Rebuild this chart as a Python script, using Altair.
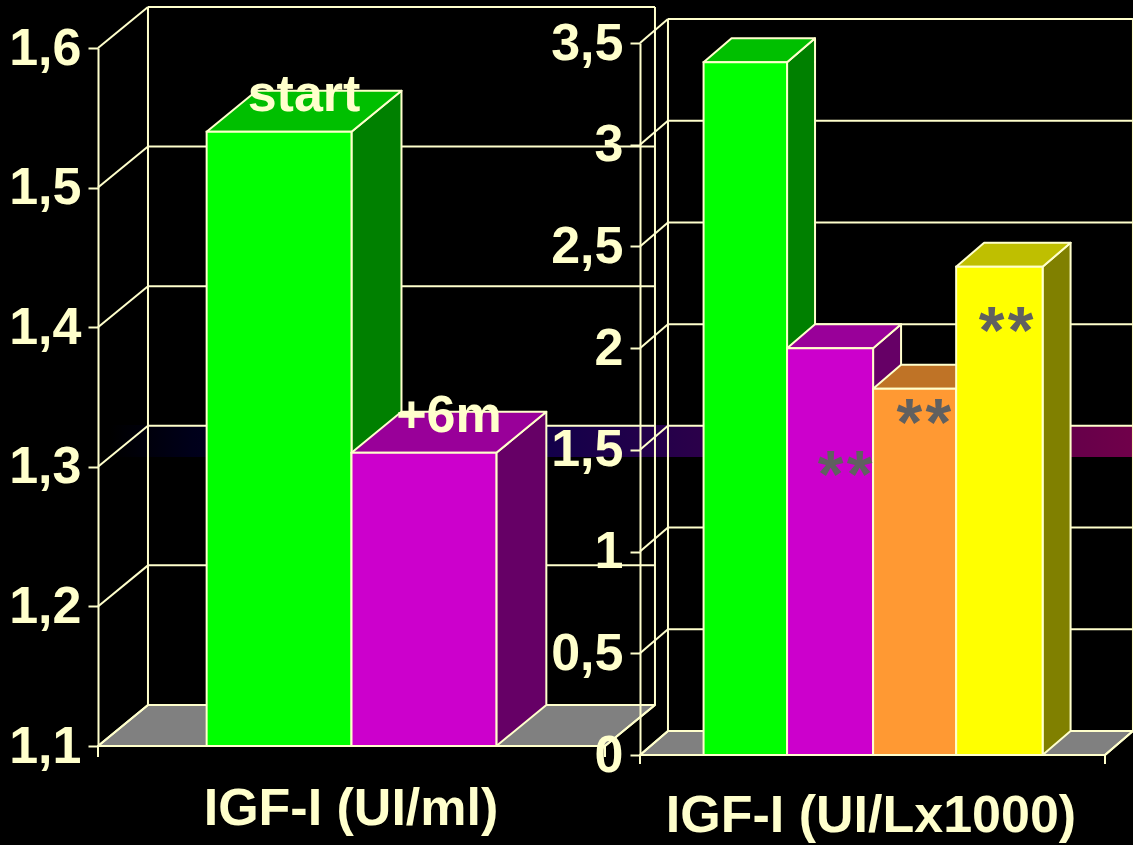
import altair as alt
import pandas as pd

CREAM = "#FFFFCC"
FONT = "Liberation Sans"
LABEL_SIZE = 52

# Left panel: IGF-I in UI/ml
left_ticks = [1.1, 1.2, 1.3, 1.4, 1.5, 1.6]
left_values = [1.54, 1.31]
left_labels = ["start", "+6m"]
left_edges = [0, 1, 2]
left_front = ["#00FF00", "#CC00CC"]
left_top = ["#00BF00", "#990099"]
left_side = ["#008000", "#660066"]

# Right panel: IGF-I in UI/L x 1000
right_ticks = [0, 0.5, 1, 1.5, 2, 2.5, 3, 3.5]
right_values = [3.405, 2.0, 1.8, 2.4]
right_edges = [0, 0.985, 2, 2.98, 4]
right_front = ["#00FF00", "#CC00CC", "#FF9933", "#FFFF00"]
right_top = ["#00BF00", "#990099", "#BF7326", "#BFBF00"]
right_side = ["#008000", "#660066", "#804D1A", "#808000"]
star_x = [1.67, 2.60, 3.57]
star_y = [1.42, 1.676, 2.13]

band_stops = [
    (0.0, "#000000"),
    (0.08, "#00001A"),
    (0.40, "#0E004A"),
    (1.0, "#70004A"),
]


def panel(ticks, values, edges, front, top, side, x_dom, x_rng, y_dom, y_rng,
          depth_x, depth_y, tail, label_pad, labels=None, stars=None):
    """Return the layers of one pseudo-3D bar panel; depths are in data units."""
    xs = alt.Scale(domain=x_dom, range=x_rng, nice=False, zero=False)
    ys = alt.Scale(domain=y_dom, range=y_rng, nice=False, zero=False)
    x_lo, x_hi = x_dom
    y_lo, y_hi = y_dom

    y_axis = alt.Axis(
        orient="left",
        values=ticks,
        format="~g",
        labelExpr="replace(datum.label, '.', ',')",
        title=None,
        grid=False,
        domain=True,
        domainColor=CREAM,
        domainWidth=2,
        ticks=True,
        tickColor=CREAM,
        tickWidth=2,
        tickSize=10,
        labelColor=CREAM,
        labelFont=FONT,
        labelFontWeight="bold",
        labelFontSize=LABEL_SIZE,
        labelPadding=label_pad,
        labelOverlap=False,
        labelFlush=False,
        labelBound=False,
        offset=-x_rng[0],
        zindex=1,
    )

    def x_enc():
        return alt.X("x:Q", scale=xs, axis=None)

    def y_enc(axis=None):
        return alt.Y("y:Q", scale=ys, axis=axis)

    def segs(rows):
        return (
            alt.Chart(pd.DataFrame(rows))
            .mark_rule(color=CREAM, strokeWidth=2)
            .encode(x=x_enc(), x2="x2:Q", y=y_enc(), y2="y2:Q")
        )

    def top_face(a, b, v, color, axis=None):
        rows = [
            {"y": v, "x": a, "x2": b},
            {"y": v + depth_y, "x": a + depth_x, "x2": b + depth_x},
        ]
        return (
            alt.Chart(pd.DataFrame(rows))
            .mark_area(orient="horizontal", fill=color, stroke=CREAM, strokeWidth=2,
                       strokeJoin="round", opacity=1)
            .encode(x=x_enc(), x2="x2:Q", y=y_enc(axis))
        )

    def side_face(b, v, color):
        rows = [
            {"x": b, "y": y_lo, "y2": v},
            {"x": b + depth_x, "y": y_lo + depth_y, "y2": v + depth_y},
        ]
        return (
            alt.Chart(pd.DataFrame(rows))
            .mark_area(orient="vertical", fill=color, stroke=CREAM, strokeWidth=2,
                       strokeJoin="round", opacity=1)
            .encode(x=x_enc(), y=y_enc(), y2="y2:Q")
        )

    def front_face(a, b, v, color):
        row = [{"x": a, "x2": b, "y": y_lo, "y2": v}]
        return (
            alt.Chart(pd.DataFrame(row))
            .mark_rect(fill=color, stroke=CREAM, strokeWidth=2, opacity=1)
            .encode(x=x_enc(), x2="x2:Q", y=y_enc(), y2="y2:Q")
        )

    # Walls: depth diagonals and back-wall lines at every tick level
    wall_rows = []
    for t in ticks:
        wall_rows.append({"x": x_lo, "x2": x_lo + depth_x, "y": t, "y2": t + depth_y})
        wall_rows.append({"x": x_lo + depth_x, "x2": x_hi + depth_x,
                          "y": t + depth_y, "y2": t + depth_y})
    for xv in (x_lo + depth_x, x_hi + depth_x):
        wall_rows.append({"x": xv, "x2": xv, "y": y_lo + depth_y, "y2": y_hi + depth_y})
    # Short tick tails below the floor at both ends of the front edge
    for xv in (x_lo, x_hi):
        wall_rows.append({"x": xv, "x2": xv, "y": y_lo, "y2": y_lo - tail})
    wall_rows.append({"x": x_lo, "x2": x_hi, "y": y_lo, "y2": y_lo})
    wall_rows.append({"x": x_hi, "x2": x_hi + depth_x, "y": y_lo, "y2": y_lo + depth_y})

    layers = [
        top_face(x_lo, x_hi, y_lo, "#808080", axis=y_axis),
        segs(wall_rows),
    ]

    for i, v in enumerate(values):
        a, b = edges[i], edges[i + 1]
        layers.append(side_face(b, v, side[i]))
        layers.append(top_face(a, b, v, top[i]))
        layers.append(front_face(a, b, v, front[i]))

    if labels:
        rows = [
            {"x": (edges[i] + edges[i + 1] + depth_x) / 2, "y": values[i] + depth_y / 2, "t": t}
            for i, t in enumerate(labels)
        ]
        layers.append(
            alt.Chart(pd.DataFrame(rows))
            .mark_text(font=FONT, fontWeight="bold", fontSize=LABEL_SIZE, color=CREAM,
                       align="center", baseline="alphabetic")
            .encode(x=x_enc(), y=y_enc(), text="t:N")
        )
    if stars:
        rows = [{"x": sx, "y": sy, "t": "*"} for sx, sy in zip(*stars)]
        # Each mark carries a pair of asterisks set a little apart
        for shift in (-14.5, 14.5):
            layers.append(
                alt.Chart(pd.DataFrame(rows))
                .mark_text(font=FONT, fontWeight="bold", fontSize=66, color="#606060",
                           align="center", baseline="alphabetic", dx=shift, dy=31)
                .encode(x=x_enc(), y=y_enc(), text="t:N")
            )
    return layers


band = alt.Chart(pd.DataFrame({"a": [0]})).mark_rect(
    color=alt.LinearGradient(
        gradient="linear", x1=0, x2=1, y1=0, y2=0,
        stops=[alt.GradientStop(offset=o, color=c) for o, c in band_stops],
    )
).encode(x=alt.value(110), x2=alt.value(1133), y=alt.value(425), y2=alt.value(457))

left = panel(
    left_ticks, left_values, left_edges, left_front, left_top, left_side,
    [-0.75, 2.75], [98, 605], [1.1, 1.6], [746, 48],
    0.345, 0.0294, 0.0079, 7,
    labels=left_labels,
)
right = panel(
    right_ticks, right_values, right_edges, right_front, right_top, right_side,
    [-0.75, 4.736], [640, 1105], [0, 3.5], [755, 43],
    0.33, 0.118, 0.044, 7,
    stars=(star_x, star_y),
)


def caption(text, x, y):
    return alt.Chart(pd.DataFrame({"t": [text]})).mark_text(
        font=FONT, fontWeight="bold", fontSize=LABEL_SIZE, color=CREAM,
        align="center", baseline="alphabetic",
    ).encode(text="t:N", x=alt.value(x), y=alt.value(y))


# Every layer keeps its own scales; within a panel they all share one domain and range
chart = (
    alt.layer(band, *left, *right,
              caption("IGF-I (UI/ml)", 351, 825),
              caption("IGF-I (UI/Lx1000)", 871, 832))
    .resolve_scale(x="independent", y="independent")
    .properties(width=1133, height=845, background="#000000", padding=0, autosize="none")
    .configure_view(stroke=None, fill="#000000")
)

chart.save("out.html", embed_options={"renderer": "svg", "actions": False})
